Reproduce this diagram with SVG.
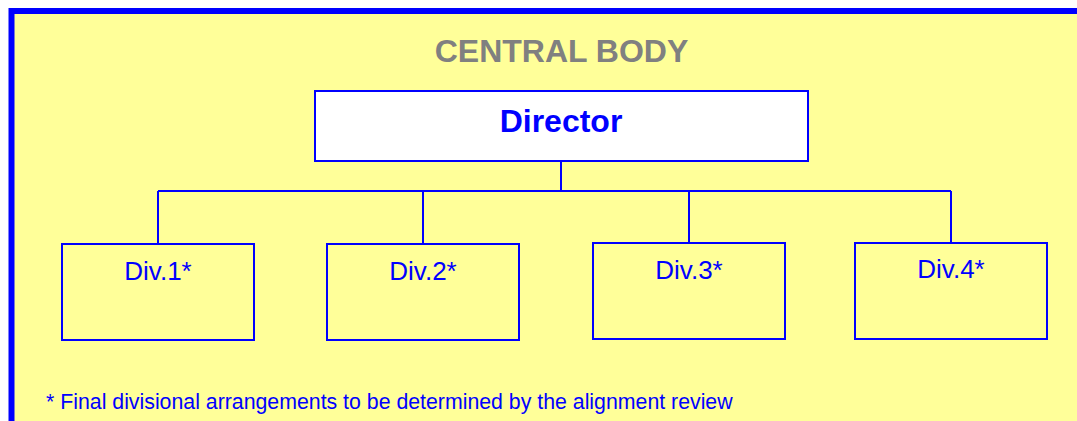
<svg xmlns="http://www.w3.org/2000/svg" width="1077" height="421" viewBox="0 0 1077 421">
<style>
.frame{fill:#FFFF99;stroke:#0000FF;stroke-width:6}
.box{fill:#FFFF99;stroke:#0000FF;stroke-width:2}
.dir{fill:#FFFFFF;stroke:#0000FF;stroke-width:2}
.conn{fill:none;stroke:#0000FF;stroke-width:2}
text{font-family:"Liberation Sans",Arial,sans-serif;text-anchor:middle}
.title{font-size:32px;font-weight:bold;fill:#808080}
.dirt{font-size:32px;font-weight:bold;fill:#0000FF}
.divt{font-size:26px;fill:#0000FF}
.note{font-size:21.3px;fill:#0000FF;text-anchor:start}
</style>
<rect class="frame" x="11.5" y="11" width="1100" height="440"/>
<text class="title" x="561.5" y="61.5">CENTRAL BODY</text>
<g id="connectors">
<path class="conn" d="M561,161 V191 M158,191 H951 M158,191 V244 M423,191 V244 M689,191 V243 M951,191 V243"/>
</g>
<g id="director">
<rect class="dir" x="315" y="91" width="493" height="70"/>
<text class="dirt" x="561" y="132">Director</text>
</g>
<g id="div1">
<rect class="box" x="62" y="244" width="192" height="96"/>
<text class="divt" x="158" y="280">Div.1*</text>
</g>
<g id="div2">
<rect class="box" x="327" y="244" width="192" height="96"/>
<text class="divt" x="423" y="280">Div.2*</text>
</g>
<g id="div3">
<rect class="box" x="593" y="243" width="192" height="96"/>
<text class="divt" x="689" y="279">Div.3*</text>
</g>
<g id="div4">
<rect class="box" x="855" y="243" width="192" height="96"/>
<text class="divt" x="951" y="278">Div.4*</text>
</g>
<text class="note" x="46" y="409">* Final divisional arrangements to be determined by the alignment review</text>
</svg>
